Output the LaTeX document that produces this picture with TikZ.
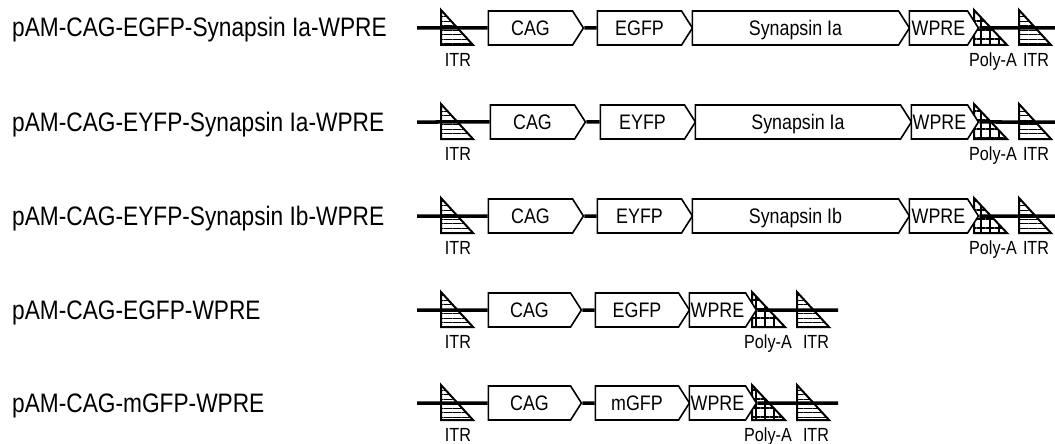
\documentclass[tikz,border=0pt]{standalone}
\usepackage{fontspec}
\setmainfont{Liberation Sans}[FakeStretch=0.85]
\usetikzlibrary{shapes.symbols,patterns.meta}

\begin{document}
\begin{tikzpicture}[
  x=1pt, y=-1pt,
  title/.style={anchor=base west, inner sep=0pt, font=\fontsize{26.7}{27}\selectfont},
  part/.style={signal, signal to=east, signal pointer angle=115, draw, fill=white,
    line width=1.6pt, minimum height=34pt, inner sep=0pt, text height=15pt, text depth=0pt,
    font=\fontsize{21}{21}\selectfont},
  backbone/.style={line width=3.5pt},
  lbl/.style={inner sep=0pt, text height=13.6pt, text depth=0pt, font=\fontsize{19}{19}\selectfont},
  itr/.pic={\draw[line width=2pt, pattern={Lines[angle=0, distance=4.5pt, line width=0.9pt]}]
    (0,-18) -- (0,17) -- (32,17) -- cycle;},
  polya/.pic={\draw[line width=2pt, pattern={Hatch[angle=0, distance=9pt, line width=1.3pt]}]
    (0,-18) -- (0,17) -- (33,17) -- cycle;}
]
\useasboundingbox (0,0) rectangle (1055,444);

% Row 1
\node[title] (t1) at (12, 37) {pAM-CAG-EGFP-Synapsin Ia-WPRE};
\pic at (441, 28) {itr};
\pic at (974, 28) {polya};
\pic at (1019, 28) {itr};
\coordinate (s1) at (417, 28);
\coordinate (e1) at (1055, 28);
\node[part, minimum width=95pt]  (cag1)  at (530.5, 28) {CAG};
\node[part, minimum width=95pt]  (fp1)   at (639.5, 28) {EGFP};
\node[part, minimum width=217pt] (syn1)  at (795.5, 28) {Synapsin Ia};
\node[part, minimum width=69pt]  (wpre1) at (938.5, 28) {WPRE};
\draw[backbone] (s1) -- (cag1) (cag1) -- (fp1) (wpre1) -- (e1);
\node[lbl] (itrl1) at (458, 60) {ITR};
\node[lbl] (pa1)   at (993, 60) {Poly-A};
\node[lbl] (itrr1) at (1036, 60) {ITR};

% Row 2
\node[title] (t2) at (12, 131) {pAM-CAG-EYFP-Synapsin Ia-WPRE};
\pic at (441, 122) {itr};
\pic at (974, 122) {polya};
\pic at (1019, 122) {itr};
\coordinate (s2) at (417, 122);
\coordinate (e2) at (1055, 122);
\node[part, minimum width=95pt]  (cag2)  at (532.5, 122) {CAG};
\node[part, minimum width=95pt]  (fp2)   at (642.5, 122) {EYFP};
\node[part, minimum width=216pt] (syn2)  at (798, 122) {Synapsin Ia};
\node[part, minimum width=67pt]  (wpre2) at (939.5, 122) {WPRE};
\draw[backbone] (s2) -- (cag2) (cag2) -- (fp2) (wpre2) -- (e2);
\node[lbl] (itrl2) at (458, 154) {ITR};
\node[lbl] (pa2)   at (993, 154) {Poly-A};
\node[lbl] (itrr2) at (1036, 154) {ITR};

% Row 3
\node[title] (t3) at (12, 225) {pAM-CAG-EYFP-Synapsin Ib-WPRE};
\pic at (441, 216) {itr};
\pic at (974, 216) {polya};
\pic at (1019, 216) {itr};
\coordinate (s3) at (417, 216);
\coordinate (e3) at (1055, 216);
\node[part, minimum width=95pt]  (cag3)  at (530.5, 216) {CAG};
\node[part, minimum width=95pt]  (fp3)   at (639.5, 216) {EYFP};
\node[part, minimum width=217pt] (syn3)  at (795.5, 216) {Synapsin Ib};
\node[part, minimum width=69pt]  (wpre3) at (938.5, 216) {WPRE};
\draw[backbone] (s3) -- (cag3) (cag3) -- (fp3) (wpre3) -- (e3);
\node[lbl] (itrl3) at (458, 248) {ITR};
\node[lbl] (pa3)   at (993, 248) {Poly-A};
\node[lbl] (itrr3) at (1036, 248) {ITR};

% Row 4
\node[title] (t4) at (12, 319) {pAM-CAG-EGFP-WPRE};
\pic at (441, 310) {itr};
\pic at (752, 310) {polya};
\pic at (797, 310) {itr};
\coordinate (s4) at (417, 310);
\coordinate (e4) at (838, 310);
\node[part, minimum width=93pt] (cag4)  at (529.5, 310) {CAG};
\node[part, minimum width=94pt] (fp4)   at (637, 310) {EGFP};
\node[part, minimum width=67pt] (wpre4) at (717.5, 310) {WPRE};
\draw[backbone] (s4) -- (cag4) (cag4) -- (fp4) (wpre4) -- (e4);
\node[lbl] (itrl4) at (458, 342) {ITR};
\node[lbl] (pa4)   at (768, 342) {Poly-A};
\node[lbl] (itrr4) at (816, 342) {ITR};

% Row 5
\node[title] (t5) at (12, 412) {pAM-CAG-mGFP-WPRE};
\pic at (441, 403) {itr};
\pic at (752, 403) {polya};
\pic at (797, 403) {itr};
\coordinate (s5) at (417, 403);
\coordinate (e5) at (838, 403);
\node[part, minimum width=93pt] (cag5)  at (529.5, 403) {CAG};
\node[part, minimum width=94pt] (fp5)   at (637, 403) {mGFP};
\node[part, minimum width=67pt] (wpre5) at (717.5, 403) {WPRE};
\draw[backbone] (s5) -- (cag5) (cag5) -- (fp5) (wpre5) -- (e5);
\node[lbl] (itrl5) at (458, 435) {ITR};
\node[lbl] (pa5)   at (768, 435) {Poly-A};
\node[lbl] (itrr5) at (816, 435) {ITR};

\end{tikzpicture}
\end{document}
